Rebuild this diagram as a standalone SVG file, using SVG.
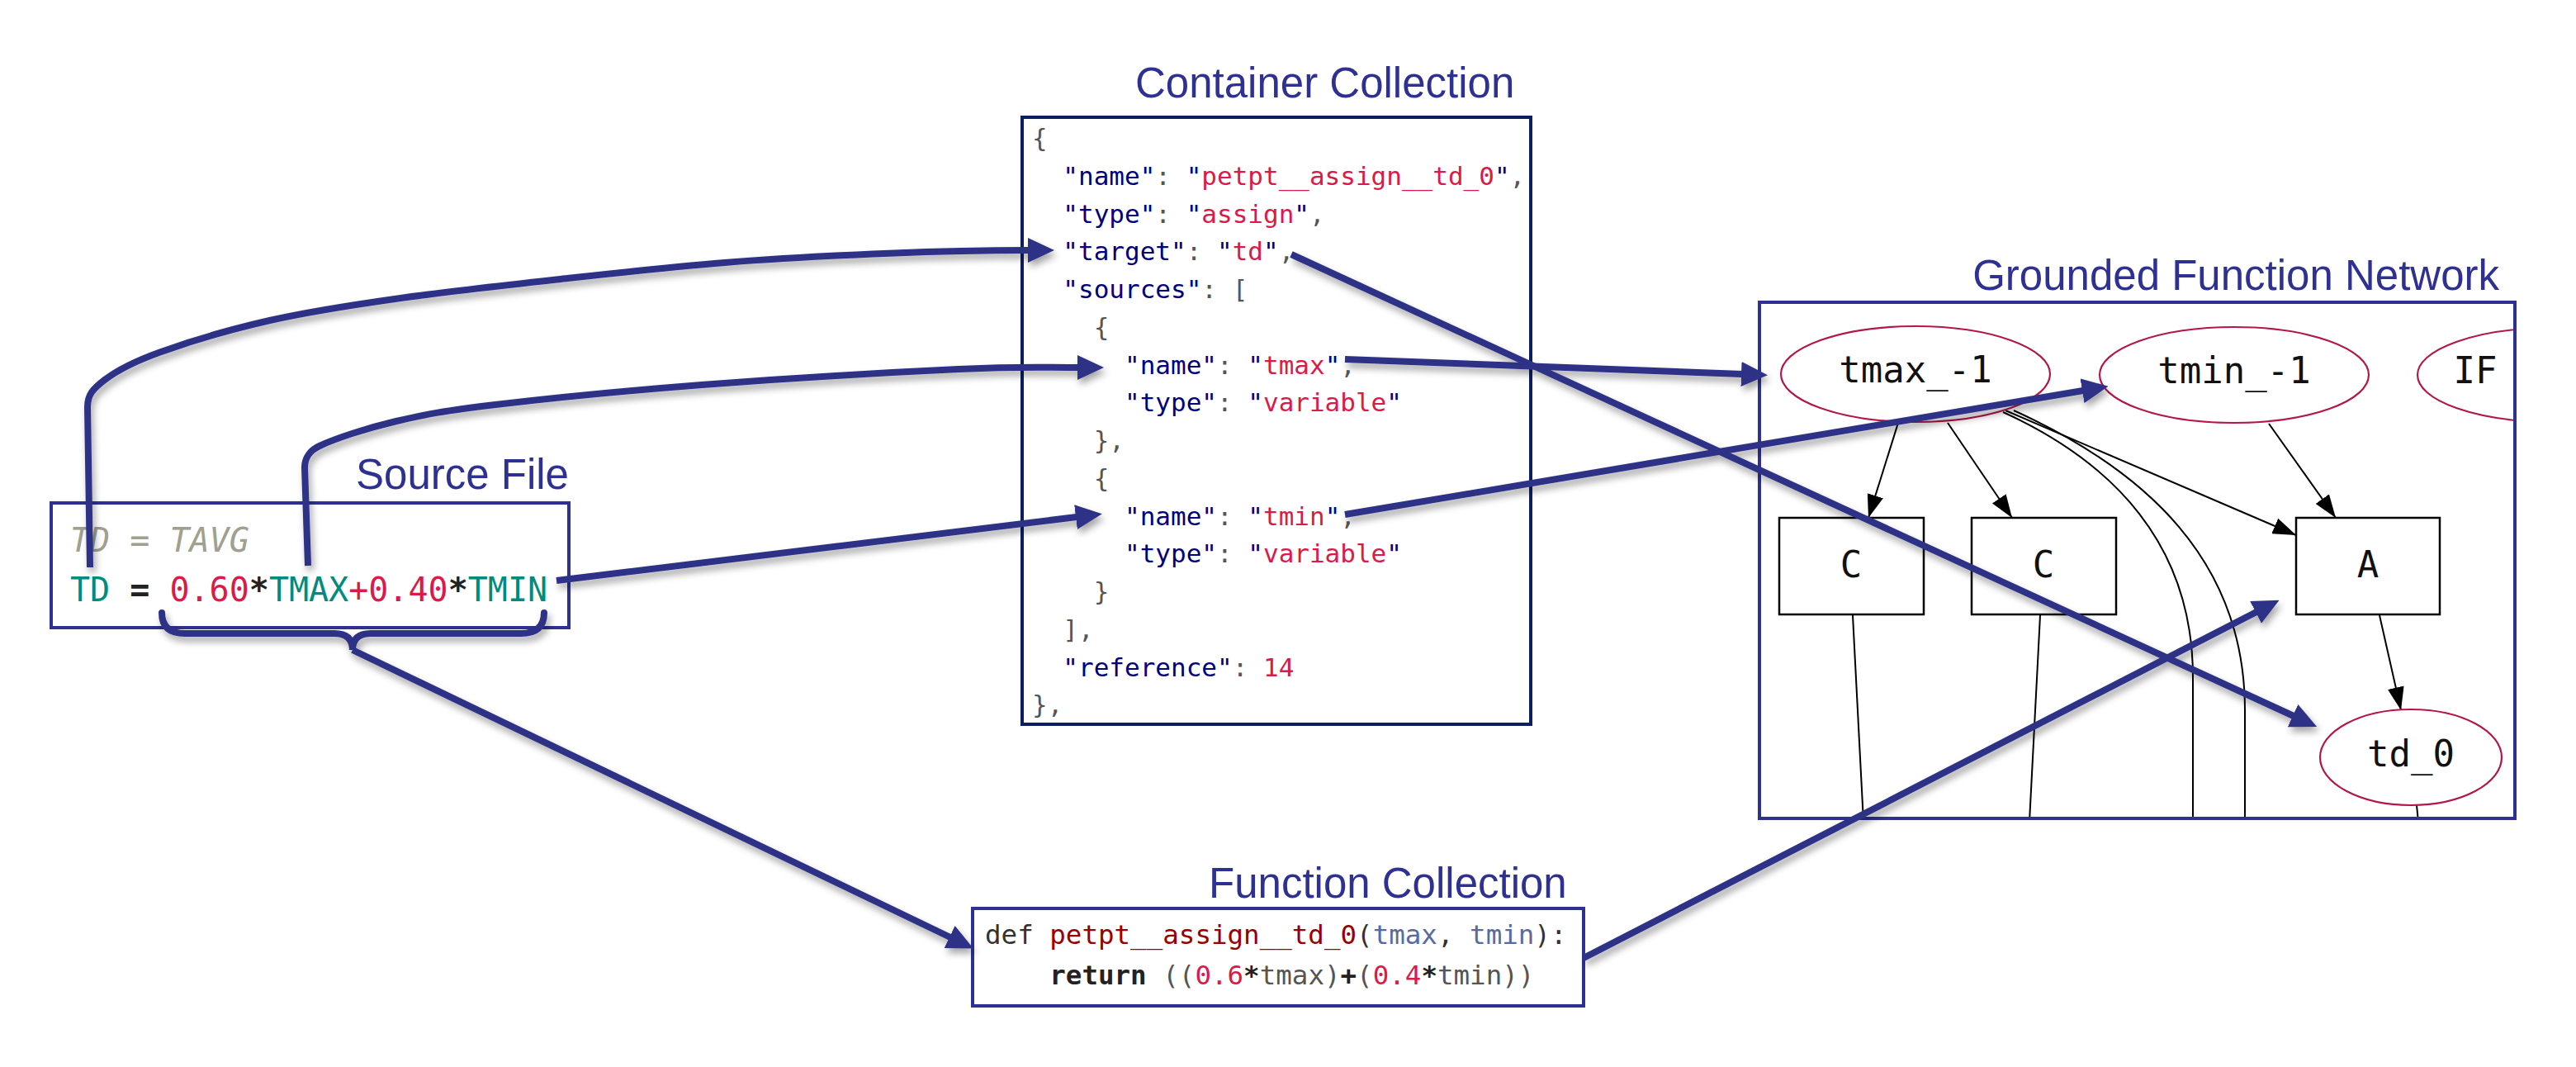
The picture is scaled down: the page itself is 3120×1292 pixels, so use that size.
<svg xmlns="http://www.w3.org/2000/svg" width="3120" height="1292" viewBox="0 0 3120 1292">
<defs>
<style>
.title{font-family:"Liberation Sans",Arial,sans-serif;font-size:51px;fill:#2E3192}
.mono{font-family:"DejaVu Sans Mono","Liberation Mono",monospace}
.json{font-size:31px}
.k{fill:#000080}
.s{fill:#DA1A4A}
.p{fill:#555555}
.box{fill:none;stroke:#2E3192;stroke-width:4}
.cbox{fill:none;stroke:#0B1F5E;stroke-width:4}
.conn{fill:none;stroke:#2E3187;stroke-width:8}
.gv{fill:none;stroke:#000;stroke-width:2}
.gvell{fill:#fff;stroke:#B3174A;stroke-width:2.2}
.gvbox{fill:#fff;stroke:#000;stroke-width:2.5}
.gvt{font-family:"DejaVu Sans Mono","Liberation Mono",monospace;font-size:44px;fill:#111;text-anchor:middle}
</style>
<filter id="sh" filterUnits="userSpaceOnUse" x="0" y="0" width="3120" height="1292">
<feDropShadow dx="3" dy="6" stdDeviation="4" flood-color="#000" flood-opacity="0.35"/>
</filter>
<marker id="ah" markerUnits="userSpaceOnUse" markerWidth="32" markerHeight="30" viewBox="0 0 32 30" refX="1" refY="15" orient="auto"><path d="M0,0 L32,15 L0,30 Z" fill="#2E3187"/></marker>
<marker id="gh" markerUnits="userSpaceOnUse" markerWidth="28" markerHeight="20" viewBox="0 0 28 20" refX="28" refY="10" orient="auto"><path d="M0,0 L28,10 L0,20 Z" fill="#000"/></marker>
<clipPath id="gclip"><rect x="2133" y="368" width="911" height="621"/></clipPath>
</defs>
<rect x="0" y="0" width="3120" height="1292" fill="#fff"/>

<g id="source-file">
<text class="title" x="431" y="592">Source File</text>
<rect class="box" x="62" y="609" width="627" height="151"/>
<text class="mono" font-size="40" x="85" y="668" font-style="italic" fill="#A0A090">TD = TAVG</text>
<text class="mono" font-size="40" x="85" y="728" xml:space="preserve"><tspan fill="#008B80">TD</tspan> <tspan font-weight="bold" fill="#222">=</tspan> <tspan fill="#DA1A4A">0.60</tspan><tspan fill="#222" font-weight="bold">*</tspan><tspan fill="#008B80">TMAX</tspan><tspan fill="#DA1A4A">+0.40</tspan><tspan fill="#222" font-weight="bold">*</tspan><tspan fill="#008B80">TMIN</tspan></text>
</g>

<g id="container-collection">
<text class="title" x="1375" y="118">Container Collection</text>
<rect class="cbox" x="1238" y="142" width="616" height="735"/>
<g class="mono json">
<text x="1250" y="178" xml:space="preserve"><tspan class="p">{</tspan></text>
<text x="1250" y="223.75" xml:space="preserve">  <tspan class="k">"name"</tspan><tspan class="p">: </tspan><tspan class="k">"</tspan><tspan class="s">petpt__assign__td_0</tspan><tspan class="k">"</tspan><tspan class="p">,</tspan></text>
<text x="1250" y="269.5" xml:space="preserve">  <tspan class="k">"type"</tspan><tspan class="p">: </tspan><tspan class="k">"</tspan><tspan class="s">assign</tspan><tspan class="k">"</tspan><tspan class="p">,</tspan></text>
<text x="1250" y="315.25" xml:space="preserve">  <tspan class="k">"target"</tspan><tspan class="p">: </tspan><tspan class="k">"</tspan><tspan class="s">td</tspan><tspan class="k">"</tspan><tspan class="p">,</tspan></text>
<text x="1250" y="361" xml:space="preserve">  <tspan class="k">"sources"</tspan><tspan class="p">: [</tspan></text>
<text x="1250" y="406.75" xml:space="preserve">    <tspan class="p">{</tspan></text>
<text x="1250" y="452.5" xml:space="preserve">      <tspan class="k">"name"</tspan><tspan class="p">: </tspan><tspan class="k">"</tspan><tspan class="s">tmax</tspan><tspan class="k">"</tspan><tspan class="p">,</tspan></text>
<text x="1250" y="498.25" xml:space="preserve">      <tspan class="k">"type"</tspan><tspan class="p">: </tspan><tspan class="k">"</tspan><tspan class="s">variable</tspan><tspan class="k">"</tspan></text>
<text x="1250" y="544" xml:space="preserve">    <tspan class="p">},</tspan></text>
<text x="1250" y="589.75" xml:space="preserve">    <tspan class="p">{</tspan></text>
<text x="1250" y="635.5" xml:space="preserve">      <tspan class="k">"name"</tspan><tspan class="p">: </tspan><tspan class="k">"</tspan><tspan class="s">tmin</tspan><tspan class="k">"</tspan><tspan class="p">,</tspan></text>
<text x="1250" y="681.25" xml:space="preserve">      <tspan class="k">"type"</tspan><tspan class="p">: </tspan><tspan class="k">"</tspan><tspan class="s">variable</tspan><tspan class="k">"</tspan></text>
<text x="1250" y="727" xml:space="preserve">    <tspan class="p">}</tspan></text>
<text x="1250" y="772.75" xml:space="preserve">  <tspan class="p">],</tspan></text>
<text x="1250" y="818.5" xml:space="preserve">  <tspan class="k">"reference"</tspan><tspan class="p">: </tspan><tspan class="s">14</tspan></text>
<text x="1250" y="864.25" xml:space="preserve"><tspan class="p">},</tspan></text>
</g>
</g>

<g id="function-collection">
<text class="title" x="1464" y="1087">Function Collection</text>
<rect class="box" x="1178" y="1100" width="740" height="118"/>
<text class="mono" font-size="32.5" x="1193" y="1143" xml:space="preserve"><tspan fill="#333">def </tspan><tspan fill="#990000">petpt__assign__td_0</tspan><tspan fill="#333">(</tspan><tspan fill="#5A6AA0">tmax</tspan><tspan fill="#333">, </tspan><tspan fill="#5A6AA0">tmin</tspan><tspan fill="#333">):</tspan></text>
<text class="mono" font-size="32.5" x="1193" y="1192" xml:space="preserve">    <tspan font-weight="bold" fill="#222">return</tspan> <tspan fill="#555">((</tspan><tspan fill="#DA1A4A">0.6</tspan><tspan font-weight="bold" fill="#222">*</tspan><tspan fill="#555">tmax)</tspan><tspan font-weight="bold" fill="#222">+</tspan><tspan fill="#555">(</tspan><tspan fill="#DA1A4A">0.4</tspan><tspan font-weight="bold" fill="#222">*</tspan><tspan fill="#555">tmin))</tspan></text>
</g>

<g id="grounded-function-network">
<text class="title" x="3027" y="351" text-anchor="end">Grounded Function Network</text>
<rect x="2131" y="366" width="915" height="625" fill="#fff"/>
<g clip-path="url(#gclip)">
<g id="gfn-edges">
<path class="gv" d="M2299,512 L2263,627" marker-end="url(#gh)"/>
<path class="gv" d="M2359,512 L2437,627" marker-end="url(#gh)"/>
<path class="gv" d="M2429,497 L2781,648" marker-end="url(#gh)"/>
<path class="gv" d="M2748,513 L2829,627" marker-end="url(#gh)"/>
<path class="gv" d="M2882,745 L2908,860" marker-end="url(#gh)"/>
<path class="gv" d="M2426,499 C2560,560 2656,660 2656,820 L2656,995"/>
<path class="gv" d="M2439,497 C2600,570 2719,680 2719,860 L2719,995"/>
<path class="gv" d="M2244,745 L2257,995"/>
<path class="gv" d="M2471,745 L2458,995"/>
<path class="gv" d="M2927,975 L2929,995"/>
</g>
<g id="node-tmax"><ellipse class="gvell" cx="2320" cy="453" rx="163" ry="58"/><text class="gvt" x="2320" y="463">tmax_-1</text></g>
<g id="node-tmin"><ellipse class="gvell" cx="2706" cy="454" rx="163" ry="58"/><text class="gvt" x="2706" y="464">tmin_-1</text></g>
<g id="node-if"><ellipse class="gvell" cx="3091" cy="454" rx="163" ry="57"/><text class="gvt" x="2998" y="464" text-anchor="start">IF</text></g>
<g id="node-c1"><rect class="gvbox" x="2155" y="627" width="175" height="117"/><text class="gvt" x="2242" y="699">C</text></g>
<g id="node-c2"><rect class="gvbox" x="2388" y="627" width="175" height="117"/><text class="gvt" x="2475" y="699">C</text></g>
<g id="node-a"><rect class="gvbox" x="2781" y="627" width="174" height="117"/><text class="gvt" x="2868" y="699">A</text></g>
<g id="node-td0"><ellipse class="gvell" cx="2920" cy="917" rx="110" ry="58"/><text class="gvt" x="2920" y="928">td_0</text></g>
</g>
<rect class="box" x="2131" y="366" width="915" height="625"/>
</g>

<g id="connectors" filter="url(#sh)">
<path class="conn" d="M109,687 L106,493 C106,478 112.2,471.1 126.7,460 C141.2,448.9 159.7,438.7 193,426.7 C226.3,414.7 278.9,398.8 326.7,388 C374.5,377.2 421.3,370 480,361.7 C538.7,353.4 612.7,345.3 679,338 C745.3,330.7 811.7,323.2 878,318 C944.3,312.8 1015.7,309.2 1077,306.7 C1138.3,304.2 1190,303 1246,303" marker-end="url(#ah)"/>
<path class="conn" d="M373,685 L369,566 C369,553 377,544.5 387,540 C405.5,531.2 444.5,518.3 480,510 C515.5,501.7 538.3,497.3 600,490 C661.7,482.7 756.5,473.2 850,466 C943.5,458.8 1085,450.5 1161,447 C1237,443.5 1258,445 1306,445" marker-end="url(#ah)"/>
<path class="conn" d="M674,703 L1304,626" marker-end="url(#ah)"/>
<path class="conn" stroke-linecap="round" stroke-width="9" d="M196,742 Q196,767 224,767 L405,767 Q427,767 427,787 Q427,767 449,767 L631,767 Q659,767 659,742"/>
<path class="conn" d="M427,787 L1151,1135" marker-end="url(#ah)"/>
<path class="conn" d="M1629,435 L2110,453" marker-end="url(#ah)"/>
<path class="conn" d="M1629,623 L2523,473" marker-end="url(#ah)"/>
<path class="conn" d="M1564,308 L2778,867" marker-end="url(#ah)"/>
<path class="conn" d="M1918,1160 L2733,741" marker-end="url(#ah)"/>
</g>
</svg>
